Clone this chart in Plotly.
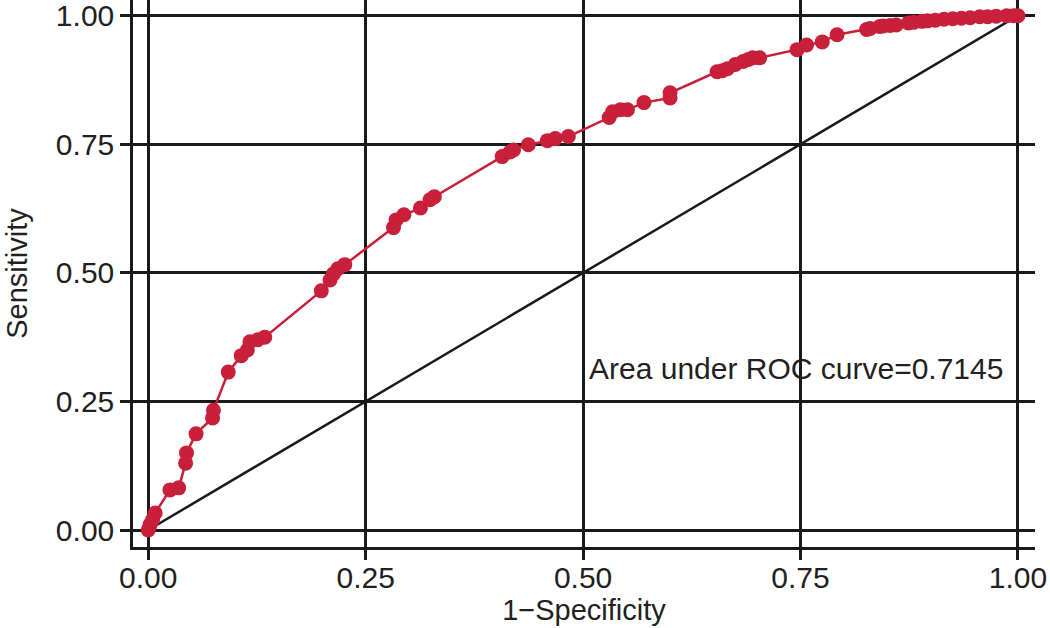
import plotly.graph_objects as go

# pontos da curva ROC (1-especificidade, sensibilidade)
fpr = [0.000, 0.002, 0.005, 0.008, 0.025, 0.035, 0.043, 0.044, 0.055, 0.074,
       0.075, 0.092, 0.107, 0.114, 0.117, 0.126, 0.134, 0.199, 0.209, 0.213,
       0.218, 0.226, 0.282, 0.285, 0.294, 0.313, 0.324, 0.329, 0.407, 0.416,
       0.420, 0.437, 0.459, 0.468, 0.483, 0.530, 0.534, 0.543, 0.551, 0.570,
       0.600, 0.600, 0.654, 0.660, 0.666, 0.675, 0.684, 0.690, 0.695, 0.703,
       0.746, 0.757, 0.775, 0.792, 0.826, 0.830, 0.841, 0.845, 0.853, 0.860,
       0.874, 0.880, 0.890, 0.896, 0.905, 0.915, 0.925, 0.935, 0.945, 0.956,
       0.965, 0.975, 0.987, 0.995, 1.000]
tpr = [0.000, 0.010, 0.020, 0.033, 0.078, 0.082, 0.130, 0.150, 0.187, 0.218,
       0.233, 0.307, 0.339, 0.350, 0.366, 0.370, 0.375, 0.465, 0.486, 0.498,
       0.508, 0.516, 0.588, 0.603, 0.613, 0.626, 0.642, 0.648, 0.726, 0.735,
       0.739, 0.749, 0.757, 0.761, 0.765, 0.802, 0.813, 0.817, 0.817, 0.831,
       0.840, 0.850, 0.891, 0.893, 0.897, 0.905, 0.911, 0.915, 0.918, 0.918,
       0.934, 0.943, 0.949, 0.963, 0.973, 0.975, 0.979, 0.980, 0.981, 0.982,
       0.986, 0.987, 0.989, 0.990, 0.991, 0.993, 0.994, 0.995, 0.996, 0.998,
       0.998, 0.999, 1.000, 1.000, 1.000]

# linha de referencia (classificador aleatorio)
ref = [0, 1]

ticks = [0, 0.25, 0.5, 0.75, 1]
tick_text = ["0.00", "0.25", "0.50", "0.75", "1.00"]

auc_text = "Area under ROC curve=0.7145"

vermelho = "#C8203A"
preto = "#1a1a1a"
texto = "#231F20"

fig = go.Figure()

fig.add_trace(go.Scatter(x=ref, y=ref, mode="lines",
                         line=dict(color=preto, width=2.5), hoverinfo="skip"))

fig.add_trace(go.Scatter(x=fpr, y=tpr, mode="lines+markers",
                         line=dict(color=vermelho, width=2.5),
                         marker=dict(color=vermelho, size=15)))

fig.add_annotation(x=0.745, y=0.315, text=auc_text, showarrow=False,
                   xanchor="center", yanchor="middle",
                   font=dict(size=30, color=texto))

eixo = dict(
    tickvals=ticks, ticktext=tick_text,
    showgrid=True, gridcolor=preto, gridwidth=2.5,
    showline=True, linecolor=preto, linewidth=2.5,
    ticks="outside", ticklen=10, tickwidth=2.5, tickcolor=preto,
    zeroline=False, ticklabeloverflow="allow",
    tickfont=dict(size=30, color=texto),
)

fig.update_xaxes(eixo, range=[-0.0175, 1.0196], ticklabelstandoff=-8,
                 title=dict(text="1\u2212Specificity", font=dict(size=29, color=texto),
                            standoff=6))
fig.update_yaxes(eixo, range=[-0.033, 1.0305],
                 title=dict(text="Sensitivity", font=dict(size=29, color=texto),
                            standoff=20))

fig.update_layout(
    width=1050, height=628,
    margin=dict(l=133, r=15, t=0, b=81),
    plot_bgcolor="white", paper_bgcolor="white",
    showlegend=False,
    font=dict(family="Liberation Sans, Arial, sans-serif"),
)

# tira a margem padrao de 8px do body para a figura ficar no canto da janela
fig.write_html("out.html", config={"displayModeBar": False},
               post_script="document.body.style.margin='0px';")
